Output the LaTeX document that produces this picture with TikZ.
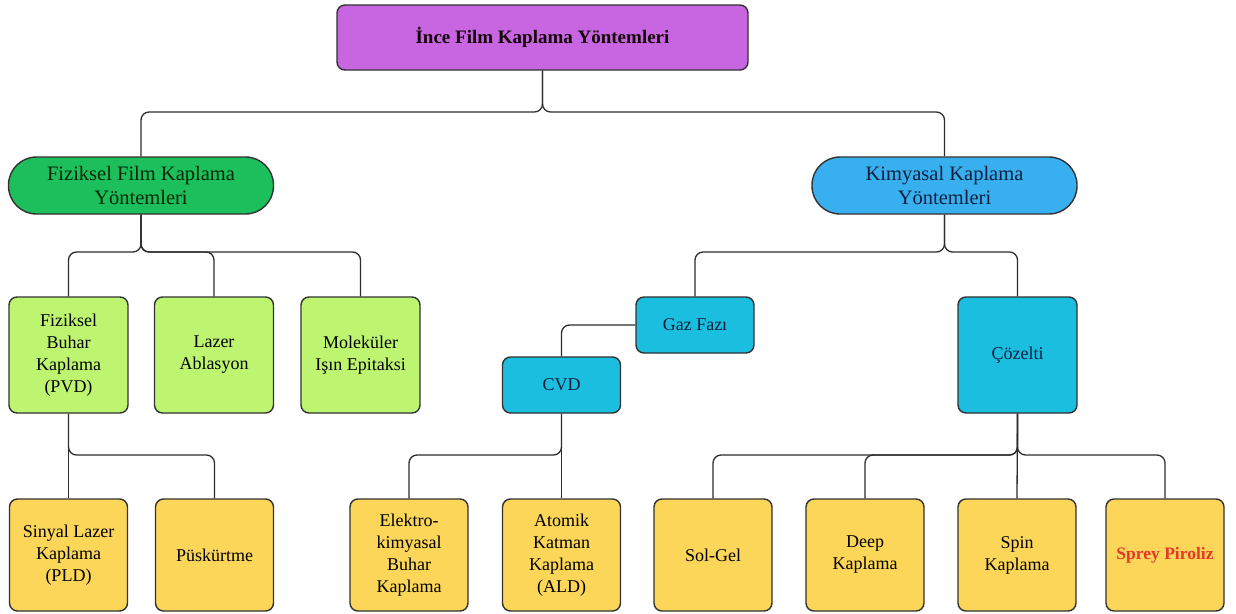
\documentclass[tikz,border=0pt]{standalone}
\usepackage{fontspec}
\setmainfont{Liberation Serif}
\definecolor{cpurple}{RGB}{200,102,226}
\definecolor{cgreen}{RGB}{29,190,92}
\definecolor{cblue}{RGB}{56,176,240}
\definecolor{clgreen}{RGB}{190,245,112}
\definecolor{ccyan}{RGB}{27,190,222}
\definecolor{cyellow}{RGB}{252,214,88}
\definecolor{cborder}{RGB}{50,50,50}
\definecolor{cline}{RGB}{45,45,45}
\definecolor{cred}{RGB}{226,58,42}
\definecolor{cnavy}{RGB}{15,30,60}
\tikzset{
  base/.style={draw=cborder, line width=1.4pt, align=center, inner sep=0pt},
  topbox/.style={base, fill=cpurple, rounded corners=8pt, minimum width=411pt, minimum height=65pt, font=\fontsize{19}{22}\selectfont\bfseries, text=black!90!purple},
  pill/.style={base, rounded corners=28pt, minimum width=265pt, minimum height=57pt, font=\fontsize{20.5}{23.5}\selectfont},
  tallbox/.style={base, rounded corners=8pt, minimum width=119pt, minimum height=116pt, font=\fontsize{18}{22}\selectfont},
  lowbox/.style={base, rounded corners=8pt, minimum width=118pt, minimum height=112pt, font=\fontsize{18}{22}\selectfont},
  flatbox/.style={base, rounded corners=8pt, minimum width=118pt, minimum height=56pt, font=\fontsize{18}{22}\selectfont, fill=ccyan, text=cnavy},
  conn/.style={draw=cline, line width=1.3pt, rounded corners=8pt}
}
\begin{document}
\begin{tikzpicture}[x=1pt,y=-1pt]
\useasboundingbox[fill=white] (0,0) rectangle (1236,613);
% nodes
\node[topbox] (top) at (542.5,37.5) {İnce Film Kaplama Yöntemleri};
\node[pill, fill=cgreen, text=black!85!green] (fiz) at (141,185.5) {Fiziksel Film Kaplama\\Yöntemleri};
\node[pill, fill=cblue, text=cnavy] (kim) at (944.5,185.5) {Kimyasal Kaplama\\Yöntemleri};
\node[tallbox, fill=clgreen] (pvd) at (68.5,355) {Fiziksel\\Buhar\\Kaplama\\(PVD)};
\node[tallbox, fill=clgreen] (laz) at (214,355) {Lazer\\Ablasyon};
\node[tallbox, fill=clgreen] (mol) at (360.5,355) {Moleküler\\Işın Epitaksi};
\node[flatbox] (gaz) at (695,325) {Gaz Fazı};
\node[flatbox] (cvd) at (561.5,385) {CVD};
\node[tallbox, fill=ccyan, text=cnavy] (coz) at (1017.5,355) {Çözelti};
\node[lowbox, fill=cyellow] (sin) at (68.5,555) {Sinyal Lazer\\Kaplama\\(PLD)};
\node[lowbox, fill=cyellow] (pus) at (214.5,555) {Püskürtme};
\node[lowbox, fill=cyellow] (ele) at (409,555) {Elektro-\\kimyasal\\Buhar\\Kaplama};
\node[lowbox, fill=cyellow] (ato) at (561.5,555) {Atomik\\Katman\\Kaplama\\(ALD)};
\node[lowbox, fill=cyellow] (sol) at (713,555) {Sol-Gel};
\node[lowbox, fill=cyellow] (dee) at (865,555) {Deep\\Kaplama};
\node[lowbox, fill=cyellow] (spi) at (1017,555) {Spin\\Kaplama};
\node[lowbox, fill=cyellow, text=cred, font=\fontsize{17.5}{21}\selectfont\bfseries] (spr) at (1165,555) {Sprey Piroliz};
% connectors
\draw[conn] (top.south) -- (top.south |- 0,112) -| (fiz.north);
\draw[conn] (top.south) -- (top.south |- 0,112) -| (kim.north);
\draw[conn] (fiz.south) -- (fiz.south |- 0,252) -| (pvd.north);
\draw[conn] (fiz.south) -- (fiz.south |- 0,252) -| (laz.north);
\draw[conn] (fiz.south) -- (fiz.south |- 0,252) -| (mol.north);
\draw[conn] (kim.south) -- (kim.south |- 0,252) -| (gaz.north);
\draw[conn] (kim.south) -- (kim.south |- 0,252) -| (coz.north);
\draw[conn] (gaz.west) -| (cvd.north);
\draw[conn] (pvd.south) -- (sin.north);
\draw[conn] (pvd.south) -- (pvd.south |- 0,455) -| (pus.north);
\draw[conn] (cvd.south) -- (ato.north);
\draw[conn] (cvd.south) -- (cvd.south |- 0,455) -| (ele.north);
\draw[conn] (coz.south) -- (coz.south |- 0,455) -| (sol.north);
\draw[conn] (coz.south) -- (coz.south |- 0,455) -| (dee.north);
\draw[conn] (coz.south) -- (spi.north);
\draw[conn] (coz.south) -- (coz.south |- 0,455) -| (spr.north);
\end{tikzpicture}
\end{document}
